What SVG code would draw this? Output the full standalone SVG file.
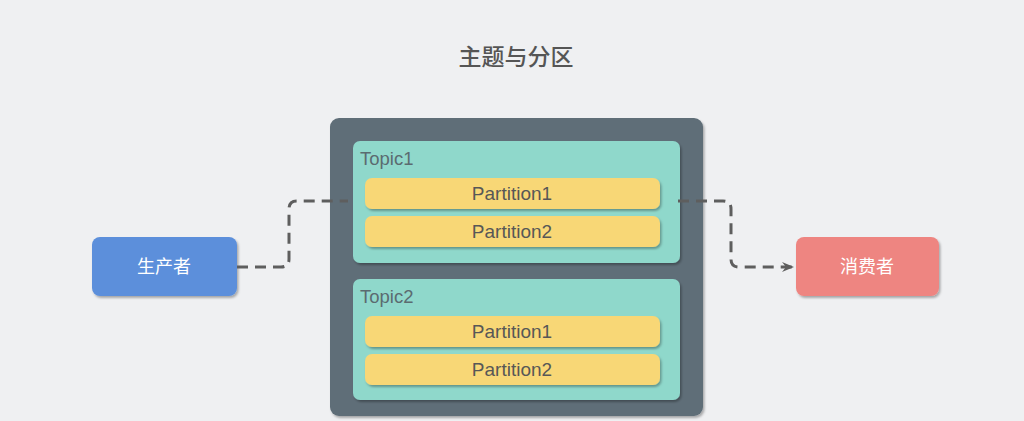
<svg xmlns="http://www.w3.org/2000/svg" width="1024" height="421" viewBox="0 0 1024 421">
<defs>
<filter id="sh" x="-10%" y="-10%" width="120%" height="130%">
<feDropShadow dx="1.5" dy="2" stdDeviation="1.2" flood-color="#000" flood-opacity="0.3"/>
</filter>
<marker id="arr" viewBox="0 0 12 10" refX="11" refY="5" markerWidth="12" markerHeight="10" markerUnits="userSpaceOnUse" orient="auto">
<path d="M0,0 L12,5 L0,10 L4,5 Z" fill="#5e5e5e"/>
</marker>
<style>
text{font-family:"Liberation Sans","Noto Sans CJK SC",sans-serif}
.lbl{font-size:19px;fill:#575757;text-anchor:middle}
.topic{font-size:18.5px;fill:#5b6b70}
.cjk{font-family:"Noto Sans CJK SC",sans-serif;font-size:18px;fill:#fff;text-anchor:middle}
.part{fill:#F8D776;filter:url(#sh)}
.tp{fill:#8FD8CB;filter:url(#sh)}
.conn{fill:none;stroke:#5e5e5e;stroke-width:3;stroke-dasharray:11,7}
</style>
</defs>
<rect width="1024" height="421" fill="#EFF0F2"/>
<text x="516" y="65" style="font-family:'Noto Sans CJK SC',sans-serif;font-size:23px;font-weight:500;fill:#555;text-anchor:middle">主题与分区</text>
<g id="cluster">
<rect x="330" y="118" width="373" height="298" rx="9" fill="#5F6E78" filter="url(#sh)"/>
</g>
<g id="topic1">
<rect class="tp" x="353" y="141" width="327" height="122" rx="7"/>
<text class="topic" x="360" y="165">Topic1</text>
</g>
<g id="t1p1">
<rect class="part" x="365" y="178" width="295" height="31" rx="7"/>
<text class="lbl" x="512" y="199.5">Partition1</text>
</g>
<g id="t1p2">
<rect class="part" x="365" y="216" width="295" height="31" rx="7"/>
<text class="lbl" x="512" y="237.5">Partition2</text>
</g>
<g id="topic2">
<rect class="tp" x="353" y="279" width="327" height="121" rx="7"/>
<text class="topic" x="360" y="303">Topic2</text>
</g>
<g id="t2p1">
<rect class="part" x="365" y="316" width="295" height="31" rx="7"/>
<text class="lbl" x="512" y="337.5">Partition1</text>
</g>
<g id="t2p2">
<rect class="part" x="365" y="354" width="295" height="31" rx="7"/>
<text class="lbl" x="512" y="375.5">Partition2</text>
</g>
<g id="producer">
<rect x="92" y="237" width="145" height="59" rx="8" fill="#5B8FDB" filter="url(#sh)"/>
<text class="cjk" x="164" y="273">生产者</text>
</g>
<g id="consumer">
<rect x="796" y="237" width="143" height="59" rx="8" fill="#EE8581" filter="url(#sh)"/>
<text class="cjk" x="867" y="273">消费者</text>
</g>
<g id="connectors">
<path class="conn" d="M237,267 H281 Q289,267 289,259 V209 Q289,201 297,201 H348"/>
<path class="conn" d="M678,201 H723 Q731,201 731,209 V259 Q731,267 739,267 H793" marker-end="url(#arr)"/>
</g>
</svg>
